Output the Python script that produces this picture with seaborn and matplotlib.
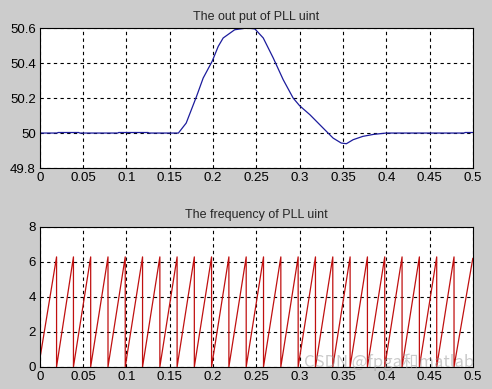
import numpy as np
import pandas as pd
import matplotlib
matplotlib.use("Agg")
import matplotlib.pyplot as plt
import seaborn as sns

# top panel: PLL output frequency
t_out = [0.0, 0.02, 0.021, 0.045, 0.046, 0.09, 0.091, 0.125, 0.126, 0.16,
         0.169, 0.181, 0.1886, 0.199, 0.206, 0.2117, 0.225, 0.2387, 0.2483,
         0.258, 0.2694, 0.281, 0.2925, 0.300, 0.3118, 0.327, 0.3387, 0.348,
         0.354, 0.3618, 0.373, 0.385, 0.40, 0.49, 0.491, 0.5]
f_out = [50.0, 50.0, 50.003, 50.003, 50.0, 50.0, 50.003, 50.003, 50.0, 50.0,
         50.057, 50.21, 50.314, 50.41, 50.495, 50.543, 50.59, 50.6, 50.595,
         50.543, 50.43, 50.305, 50.2, 50.156, 50.105, 50.029, 49.971, 49.943,
         49.939, 49.962, 49.981, 49.992, 50.0, 50.0, 50.003, 50.003]

# bottom panel: phase sawtooth, reset instants
reset_t = [0.0193, 0.0388, 0.0587, 0.0787, 0.0986, 0.1186, 0.1386, 0.1585,
           0.1784, 0.1983, 0.2183, 0.2383, 0.2583, 0.2783, 0.2983, 0.3183,
           0.3383, 0.3583, 0.3783, 0.3983, 0.4183, 0.4383, 0.4583, 0.4783]
phase_start = 0.45
phase_top = 6.28
phase_end = 6.2

xticks = [0, 0.05, 0.1, 0.15, 0.2, 0.25, 0.3, 0.35, 0.4, 0.45, 0.5]
xtick_labels = ["0", "0.05", "0.1", "0.15", "0.2", "0.25", "0.3", "0.35", "0.4", "0.45", "0.5"]
top_yticks = [49.8, 50, 50.2, 50.4, 50.6]
top_ylabels = ["49.8", "50", "50.2", "50.4", "50.6"]
bot_yticks = [0, 2, 4, 6, 8]

# build the sawtooth polyline from the reset list
saw_t = [0.0]
saw_v = [phase_start]
for r in reset_t:
    saw_t += [r, r]
    saw_v += [phase_top, 0.0]
saw_t.append(0.5)
saw_v.append(phase_end)

out_df = pd.DataFrame({"t": t_out, "f": f_out})
saw_df = pd.DataFrame({"t": saw_t, "v": saw_v})

sns.set_style("white")
plt.rcParams["font.family"] = ["Liberation Sans", "DejaVu Sans"]

fig = plt.figure(figsize=(4.92, 3.89), dpi=100, facecolor="#cccccc")
ax1 = fig.add_axes([0.081, 0.568, 0.880, 0.360])
ax2 = fig.add_axes([0.081, 0.057, 0.880, 0.360])

sns.lineplot(data=out_df, x="t", y="f", ax=ax1, color="#1c1c9c", linewidth=0.9,
             sort=False, estimator=None)
sns.lineplot(data=saw_df, x="t", y="v", ax=ax2, color="#c01010", linewidth=0.9,
             sort=False, estimator=None)

for ax, yt, yl, ylim, title in [
    (ax1, top_yticks, top_ylabels, (49.8, 50.6), "The out put of PLL uint"),
    (ax2, bot_yticks, [str(v) for v in bot_yticks], (0, 8), "The frequency of PLL uint"),
]:
    ax.set_facecolor("white")
    ax.set_xlim(0, 0.5)
    ax.set_ylim(*ylim)
    ax.set_xticks(xticks)
    ax.set_xticklabels(xtick_labels)
    ax.set_yticks(yt)
    ax.set_yticklabels(yl)
    ax.set_xlabel("")
    ax.set_ylabel("")
    ax.set_title(title, fontsize=9, pad=6)
    ax.grid(True, color="black", linestyle=(0, (3, 3)), linewidth=0.8)
    ax.tick_params(direction="in", length=3, width=0.8, labelsize=9.5,
                   colors="black", pad=3)
    for s in ax.spines.values():
        s.set_color("black")
        s.set_linewidth(0.8)
        s.set_visible(True)

# watermark, sitting on the lower edge of the bottom axes
fig.text(0.618, 0.056, "CSDN @fpga和matlab", fontsize=12, color="#a0a0a0",
         alpha=0.55, family=["Noto Sans CJK SC", "DejaVu Sans"])

fig.savefig("out.png", dpi=100, facecolor=fig.get_facecolor())
